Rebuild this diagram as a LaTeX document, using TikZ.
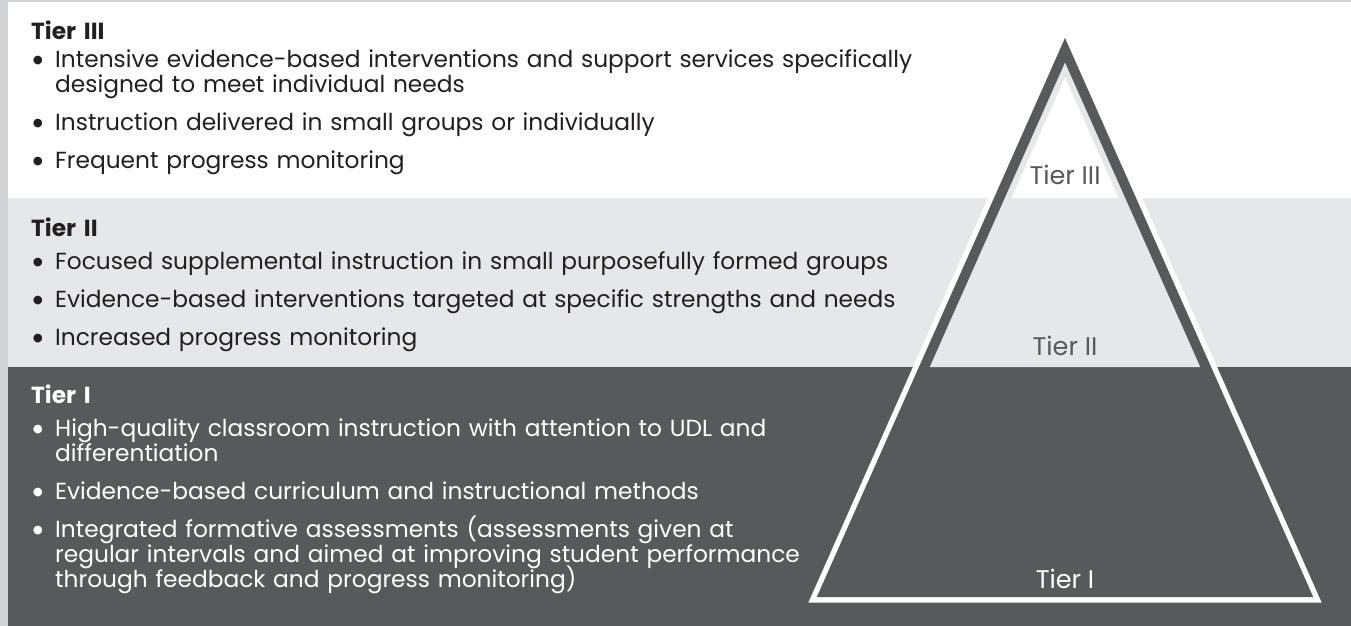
\documentclass[tikz,border=0pt]{standalone}
\usepackage{fontspec}
\setmainfont{Poppins}
\newfontfamily\bulletfont{Lato}
\usetikzlibrary{positioning}

\definecolor{tierdark}{HTML}{58595B}
\definecolor{tierlight}{HTML}{E6E7E8}
\definecolor{tierframe}{HTML}{D1D3D4}
\definecolor{tierink}{HTML}{231F20}

\newcommand{\tiersize}{\fontsize{23.3pt}{25pt}\selectfont\lineskiplimit=-100pt}
\newcommand{\labelsize}{\fontsize{25.5pt}{27pt}\selectfont}

% bullet list; optional argument = gap below the heading
\newenvironment{tierlist}[1][8pt]{%
  \begin{list}{{\bulletfont\textbullet}\hfill}{%
    \setlength{\leftmargin}{24pt}%
    \setlength{\labelwidth}{24pt}%
    \setlength{\labelsep}{0pt}%
    \setlength{\itemsep}{13pt}%
    \setlength{\parsep}{0pt}%
    \setlength{\topsep}{#1}%
    \setlength{\partopsep}{0pt}}}%
  {\end{list}}

\tikzset{
  tiertext/.style={anchor=base west,inner sep=0pt,text width=1000pt,
                   align=left,font=\tiersize},
  tierlabel/.style={anchor=base,inner sep=0pt,font=\labelsize},
}

\begin{document}
\begin{tikzpicture}[x=1pt,y=-1pt]
    \useasboundingbox (0,0) rectangle (1351,626);

    % Bands
    \fill[tierframe] (0,0) rectangle (1351,626);
    \fill[white]     (8,2)   rectangle (1351,198);
    \fill[tierlight] (8,198) rectangle (1351,367);
    \fill[tierdark]  (8,367) rectangle (1351,626);

    % Pyramid
    \fill[white]     (1065,24.5) -- (1321.6,602.5) -- (808.4,602.5) -- cycle;
    \fill[tierdark]  (1065,38)   -- (1313.2,597)   -- (816.8,597)   -- cycle;
    \fill[tierlight] (1065,62.6) -- (1200.2,367)   -- (929.8,367)   -- cycle;
    \fill[white]     (1065,77.4) -- (1118.5,198)   -- (1011.5,198)  -- cycle;

    \node[tierlabel,text=tierdark] (lthree) at (1065,184) {Tier III};
    \node[tierlabel,text=tierdark] (ltwo)   at (1065,355) {Tier II};
    \node[tierlabel,text=white]    (lone)   at (1065,588) {Tier I};

    % Tier descriptions
    \node[tiertext,text=tierink] (tthree) at (31,40) {\textbf{Tier III}
      \begin{tierlist}[3pt]
        \item Intensive evidence-based interventions and support services specifically\newline
              designed to meet individual needs
        \item Instruction delivered in small groups or individually
        \item Frequent progress monitoring
      \end{tierlist}};
    \node[tiertext,text=tierink] (ttwo) at (31,236) {\textbf{Tier II}
      \begin{tierlist}
        \item Focused supplemental instruction in small purposefully formed groups
        \item Evidence-based interventions targeted at specific strengths and needs
        \item Increased progress monitoring
      \end{tierlist}};
    \node[tiertext,text=white] (tone) at (31,403) {\textbf{Tier I}
      \begin{tierlist}
        \item High-quality classroom instruction with attention to UDL and\newline
              differentiation
        \item Evidence-based curriculum and instructional methods
        \item Integrated formative assessments (assessments given at\newline
              regular intervals and aimed at improving student performance\newline
              through feedback and progress monitoring)
      \end{tierlist}};
\end{tikzpicture}
\end{document}
